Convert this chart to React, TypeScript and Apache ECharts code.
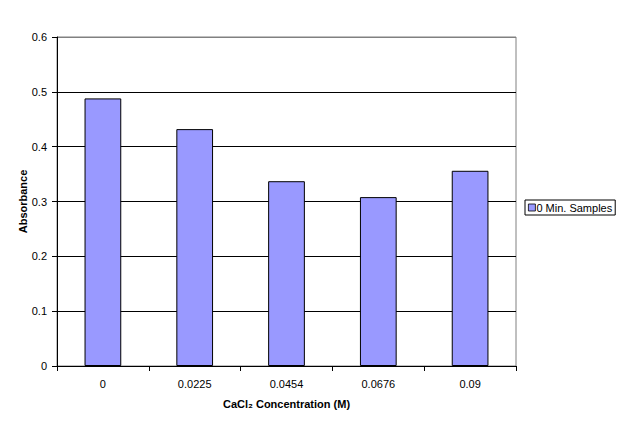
import React, { useEffect, useRef } from "react";
import * as echarts from "echarts";

const categories = ["0", "0.0225", "0.0454", "0.0676", "0.09"];
const values = [0.488, 0.432, 0.337, 0.308, 0.356];
const seriesName = "0 Min. Samples";

export default function App() {
  const ref = useRef<HTMLDivElement>(null);
  useEffect(() => {
    if (!ref.current) return;
    const chart = echarts.init(ref.current, undefined, { renderer: "svg" });
    const font = "'Liberation Sans', Arial, sans-serif";
    chart.setOption({
      animation: false,
      backgroundColor: "#ffffff",
      textStyle: { fontFamily: font, color: "#000" },
      grid: {
        left: 57,
        top: 37,
        right: 108,
        bottom: 62,
        show: true,
        borderColor: "#808080",
        borderWidth: 1,
        backgroundColor: "transparent",
      },
      legend: {
        left: 525,
        top: 200,
        orient: "vertical",
        padding: [2, 3, 2, 3],
        borderColor: "#000",
        borderWidth: 1,
        itemWidth: 7,
        itemHeight: 7,
        itemGap: 2,
        icon: "rect",
        itemStyle: { color: "#9999FF", borderColor: "#000", borderWidth: 0.8 },
        textStyle: { fontFamily: font, fontSize: 11, color: "#000", padding: [0, 0, 0, -4] },
        data: [seriesName],
      },
      xAxis: {
        type: "category",
        data: categories,
        name: "CaCl₂ Concentration (M)",
        nameLocation: "middle",
        nameGap: 32,
        nameMoveOverlap: false,
        nameTextStyle: { fontFamily: font, fontSize: 11, fontWeight: "bold", color: "#000" },
        axisLine: { lineStyle: { color: "#000", width: 1 } },
        axisTick: { show: true, length: 5, lineStyle: { color: "#000" }, alignWithLabel: false },
        axisLabel: { fontFamily: font, fontSize: 11, color: "#000", margin: 12 },
      },
      yAxis: {
        type: "value",
        min: 0,
        max: 0.6,
        interval: 0.1,
        name: "Absorbance",
        nameLocation: "middle",
        nameGap: 29,
        nameMoveOverlap: false,
        nameRotate: 90,
        nameTextStyle: { fontFamily: font, fontSize: 11, fontWeight: "bold", color: "#000" },
        axisLine: { show: true, lineStyle: { color: "#000", width: 1 } },
        axisTick: { show: true, length: 5, lineStyle: { color: "#000" } },
        axisLabel: {
          fontFamily: font,
          fontSize: 11,
          color: "#000",
          margin: 10,
          formatter: (v: number) => String(Math.round(v * 10) / 10),
        },
        splitLine: {
          show: true,
          lineStyle: {
            color: ["#000", "#000", "#000", "#000", "#000", "#000", "#808080"],
            width: 1,
          },
        },
      },
      series: [
        {
          name: seriesName,
          type: "bar",
          data: values,
          barCategoryGap: "60%",
          itemStyle: { color: "#9999FF", borderColor: "#000", borderWidth: 1 },
        },
      ],
    });
    return () => chart.dispose();
  }, []);
  return <div ref={ref} style={{ width: 624, height: 428, margin: -8 }} />;
}
